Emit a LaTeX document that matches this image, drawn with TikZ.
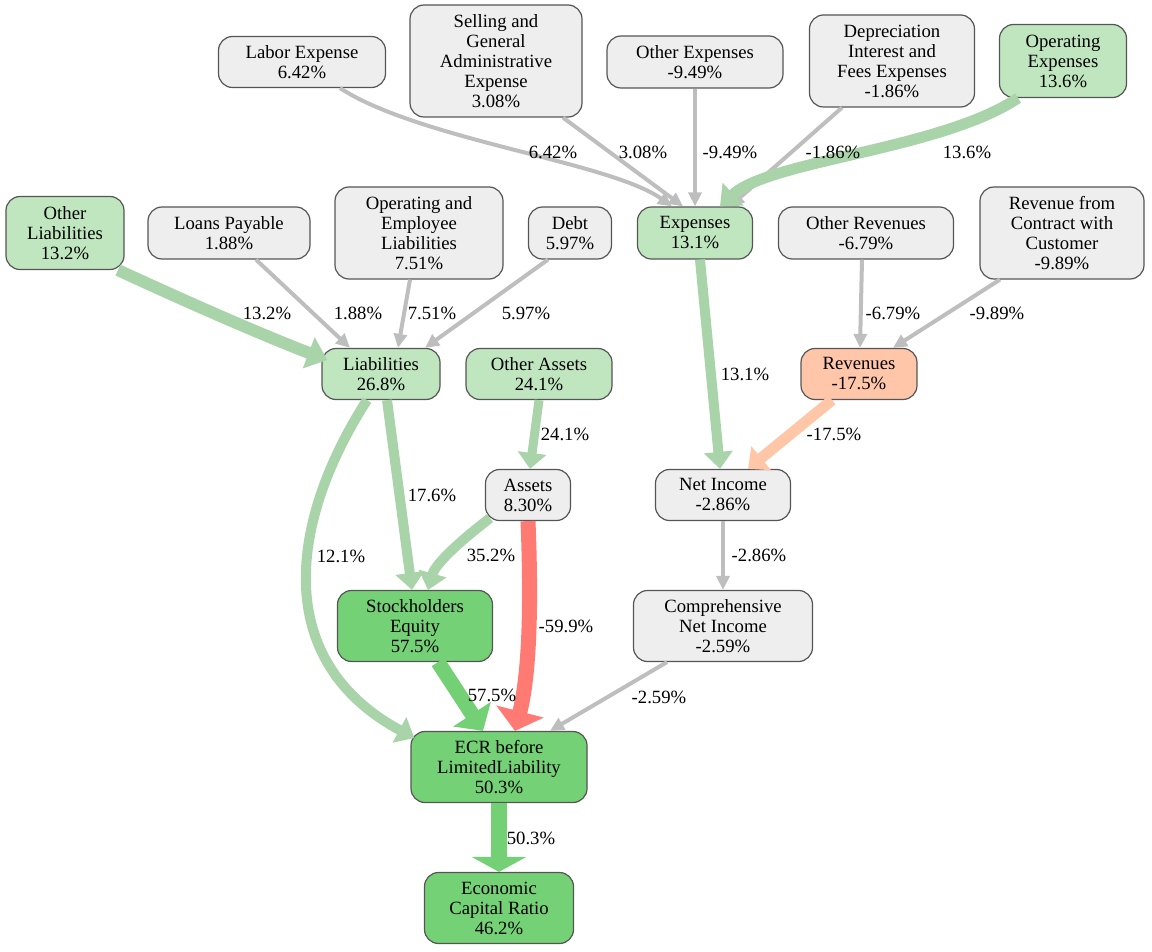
\documentclass[tikz,border=0pt]{standalone}
\usepackage{fontspec}
\setmainfont{Liberation Serif}
\newfontfamily\tnr{Liberation Serif}
\usetikzlibrary{arrows.meta,calc}
\definecolor{gfill}{HTML}{EEEEEE}
\definecolor{lgfill}{HTML}{BFE6BF}
\definecolor{dgfill}{HTML}{75D175}
\definecolor{pfill}{HTML}{FFC6AA}
\definecolor{bord}{HTML}{555555}
\definecolor{egray}{HTML}{BEBEBE}
\definecolor{elg}{HTML}{A9D3A9}
\definecolor{edg}{HTML}{74D074}
\definecolor{ered}{HTML}{FF7A72}
\definecolor{epeach}{HTML}{FFC6A8}
\begin{document}
\begin{tikzpicture}[x=1pt,y=-1pt,
  box/.style={draw=bord,line width=1.2pt,rounded corners=14pt,align=center,inner sep=0pt,
    font=\tnr\fontsize{18.7}{20}\selectfont},
  gbox/.style={box,fill=gfill},
  lgbox/.style={box,fill=lgfill},
  dgbox/.style={box,fill=dgfill},
  pbox/.style={box,fill=pfill},
  lbl/.style={inner sep=0pt,font=\tnr\fontsize{18.7}{20}\selectfont},
  gedge/.style={draw=egray,line width=4pt,-{Triangle[length=14pt,width=13pt]}},
  wedge/.style n args={3}{draw=#1,line width=#2pt,-{Triangle[length=#3]}}
]
\useasboundingbox (0,0) rectangle (1152,952);

% nodes
\node[gbox,minimum width=167pt,minimum height=51pt] (labor) at (302,62) {Labor Expense\\6.42\%};
\node[gbox,minimum width=172pt,minimum height=112pt] (sga) at (496,61) {Selling and\\General\\Administrative\\Expense\\3.08\%};
\node[gbox,minimum width=176pt,minimum height=52pt] (othexp) at (695,62) {Other Expenses\\-9.49\%};
\node[gbox,minimum width=165pt,minimum height=92pt] (dep) at (892,61) {Depreciation\\Interest and\\Fees Expenses\\-1.86\%};
\node[lgbox,minimum width=127pt,minimum height=73pt] (opex) at (1063,61) {Operating\\Expenses\\13.6\%};
\node[lgbox,minimum width=118pt,minimum height=73pt] (othliab) at (65,233) {Other\\Liabilities\\13.2\%};
\node[gbox,minimum width=162pt,minimum height=52pt] (loans) at (229,233) {Loans Payable\\1.88\%};
\node[gbox,minimum width=168pt,minimum height=92pt] (oel) at (419,233) {Operating and\\Employee\\Liabilities\\7.51\%};
\node[gbox,minimum width=83pt,minimum height=52pt] (debt) at (570,233) {Debt\\5.97\%};
\node[lgbox,minimum width=115pt,minimum height=52pt] (exp) at (695,233) {Expenses\\13.1\%};
\node[gbox,minimum width=175pt,minimum height=52pt] (othrev) at (866,233) {Other Revenues\\-6.79\%};
\node[gbox,minimum width=164pt,minimum height=92pt] (rfcc) at (1062,233) {Revenue from\\Contract with\\Customer\\-9.89\%};
\node[lgbox,minimum width=118pt,minimum height=51pt] (liab) at (381,374) {Liabilities\\26.8\%};
\node[lgbox,minimum width=146pt,minimum height=51pt] (othass) at (539,374) {Other Assets\\24.1\%};
\node[pbox,minimum width=116pt,minimum height=51pt] (rev) at (859,374) {Revenues\\-17.5\%};
\node[gbox,minimum width=85pt,minimum height=51pt] (ass) at (528,495) {Assets\\8.30\%};
\node[gbox,minimum width=135pt,minimum height=51pt] (ni) at (723,495) {Net Income\\-2.86\%};
\node[dgbox,minimum width=155pt,minimum height=71pt] (se) at (415,626) {Stockholders\\Equity\\57.5\%};
\node[gbox,minimum width=179pt,minimum height=71pt] (cni) at (723,626) {Comprehensive\\Net Income\\-2.59\%};
\node[dgbox,minimum width=176pt,minimum height=71pt] (ecr) at (499,767) {ECR before\\LimitedLiability\\50.3\%};
\node[dgbox,minimum width=149pt,minimum height=71pt] (ratio) at (499,908) {Economic\\Capital Ratio\\46.2\%};

% edges
\draw[gedge] ($(labor.south)+(38,0)$) .. controls (420,140) and (610,162) .. ($(exp.north)+(-23,0)$);
\draw[gedge] ($(sga.south)+(67,0)$) -- ($(exp.north)+(-12,0)$);
\draw[gedge] (othexp.south) -- (exp.north);
\draw[gedge] ($(dep.south)+(-50,0)$) -- ($(exp.north)+(35,0)$);
\draw[wedge={elg}{11}{18pt,width=30pt}] ($(opex.south)+(-45,0)$) .. controls (940,150) and (770,160) .. ($(exp.north)+(25,0)$);

\draw[wedge={elg}{12}{20pt,width=32pt}] ($(othliab.south)+(53,0)$) .. controls (200,308) and (270,338) .. ($(liab.west)+(6,-14)$);
\draw[gedge] ($(loans.south)+(27,0)$) -- ($(liab.north)+(-31,0)$);
\draw[gedge] ($(oel.south)+(-9,0)$) -- ($(liab.north)+(17,0)$);
\draw[gedge] ($(debt.south)+(-22,0)$) -- ($(liab.north)+(44,0)$);

\draw[wedge={elg}{10}{17pt,width=28pt}] ($(liab.south)+(6,0)$) -- ($(se.north)+(-3,0)$);
\draw[wedge={elg}{10}{17pt,width=28pt}] ($(liab.south)+(-14,0)$) .. controls (290,520) and (270,660) .. ($(ecr.west)+(4,-29)$);
\draw[wedge={elg}{9}{16pt,width=28pt}] (othass.south) -- ($(ass.north)+(2,0)$);
\draw[wedge={elg}{10}{17pt,width=28pt}] ($(ass.south)+(-38,-3)$) .. controls (455,545) and (435,565) .. ($(se.north)+(13,0)$);
\draw[wedge={ered}{15}{20pt,width=48pt}] (ass.south) .. controls (532,620) and (528,680) .. ($(ecr.north)+(16,0)$);
\draw[wedge={edg}{15}{20pt,width=44pt}] ($(se.south)+(23,0)$) -- ($(ecr.north)+(-16,0)$);
\draw[gedge] ($(cni.south)+(-56,0)$) -- ($(ecr.north)+(51,0)$);

\draw[wedge={elg}{10}{17pt,width=28pt}] ($(exp.south)+(5,0)$) -- ($(ni.north)+(-3,0)$);
\draw[wedge={epeach}{11}{17pt,width=30pt}] ($(rev.south)+(-27,0)$) -- ($(ni.north)+(25,0)$);
\draw[gedge] ($(othrev.south)+(-4,0)$) -- ($(rev.north)+(1,0)$);
\draw[gedge] ($(rfcc.south)+(-62,0)$) -- ($(rev.north)+(34,0)$);
\draw[gedge] (ni.south) -- (cni.north);
\draw[wedge={edg}{16}{15pt,width=54pt}] (ecr.south) -- (ratio.north);

% labels
\node[lbl] (l1) at (553,152) {6.42\%};
\node[lbl] (l2) at (643,152) {3.08\%};
\node[lbl] (l3) at (730,152) {-9.49\%};
\node[lbl] (l4) at (833,152) {-1.86\%};
\node[lbl] (l5) at (967,152) {13.6\%};
\node[lbl] (l6) at (267,313) {13.2\%};
\node[lbl] (l7) at (358,313) {1.88\%};
\node[lbl] (l8) at (432,313) {7.51\%};
\node[lbl] (l9) at (526,313) {5.97\%};
\node[lbl] (l10) at (893,313) {-6.79\%};
\node[lbl] (l11) at (997,313) {-9.89\%};
\node[lbl] (l12) at (745,374) {13.1\%};
\node[lbl] (l13) at (565,434) {24.1\%};
\node[lbl] (l14) at (834,434) {-17.5\%};
\node[lbl] (l15) at (432,495) {17.6\%};
\node[lbl] (l16) at (341,556) {12.1\%};
\node[lbl] (l17) at (491,555) {35.2\%};
\node[lbl] (l18) at (759,555) {-2.86\%};
\node[lbl] (l19) at (566,626) {-59.9\%};
\node[lbl] (l20) at (492,695) {57.5\%};
\node[lbl] (l21) at (659,697) {-2.59\%};
\node[lbl] (l22) at (531,838) {50.3\%};
\end{tikzpicture}
\end{document}
